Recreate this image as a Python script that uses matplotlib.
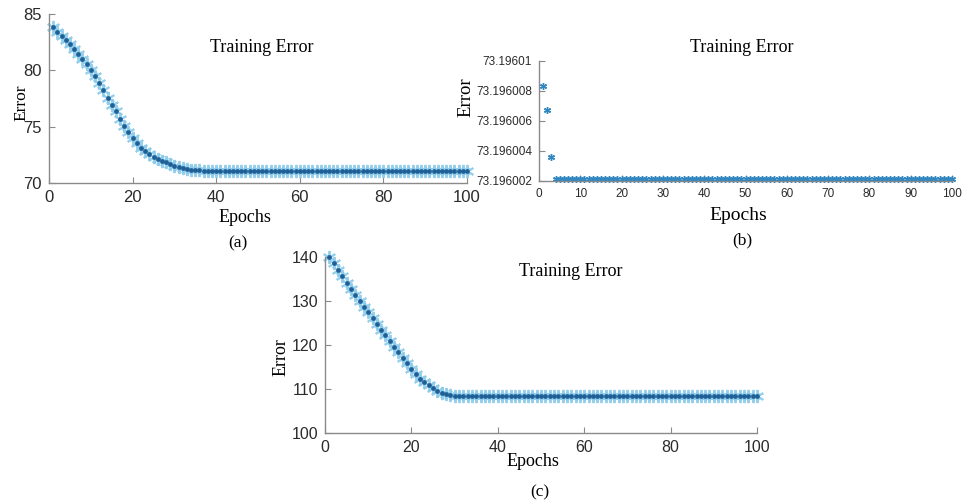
import numpy as np
import matplotlib.pyplot as plt

# epochs 1..100
epochs = np.arange(1, 101)

# (a) training error
err_a = [83.82, 83.44, 83.08, 82.70, 82.30, 81.88, 81.45, 81.00, 80.54, 80.06,
         79.48, 78.88, 78.22, 77.56, 76.96, 76.38, 75.72, 75.06, 74.54, 74.03,
         73.57, 73.15, 72.84, 72.56, 72.33, 72.12, 71.96, 71.82, 71.68, 71.55,
         71.43, 71.33, 71.25, 71.19, 71.15, 71.12] + [71.10] * 64

# (b) training error
err_b = [73.1960083, 73.1960067, 73.1960036] + [73.1960021] * 97

# (c) training error
err_c = [140.0, 138.6, 137.1, 135.6, 134.1, 132.7, 131.3, 130.0, 128.7, 127.4,
         126.1, 124.8, 123.5, 122.2, 120.9, 119.6, 118.3, 117.0, 115.8, 114.5,
         113.3, 112.3, 111.5, 110.8, 110.2, 109.6, 109.2, 108.9, 108.6] + [108.5] * 71

b_ticks = [73.196002, 73.196004, 73.196006, 73.196008, 73.19601]
b_labels = ["73.196002", "73.196004", "73.196006", "73.196008", "73.19601"]

W, H = 967, 504
fig = plt.figure(figsize=(W / 100, H / 100), dpi=100)
serif = "Liberation Serif"
sans = "Liberation Sans"


def box(l, t, r, b):
    return [l / W, 1 - b / H, (r - l) / W, (b - t) / H]


def style(ax, fs):
    for s in ["top", "right"]:
        ax.spines[s].set_visible(False)
    for s in ["left", "bottom"]:
        ax.spines[s].set_color("#8a8a8a")
        ax.spines[s].set_linewidth(1.0)
    ax.tick_params(direction="in", length=4, color="#8a8a8a", labelcolor="#2b2b2b",
                   labelsize=fs, pad=5)
    for lab in ax.get_xticklabels() + ax.get_yticklabels():
        lab.set_fontfamily(sans)


def label(x, y, s, fs=12.5, rot=0):
    fig.text(x / W, 1 - y / H, s, ha="center", va="center", fontsize=fs,
             family=serif, rotation=rot)


def big_markers(ax, x, y):
    ax.plot(x, y, ls="none", marker=(6, 2, 0), ms=9.5, mew=1.4, color="#8ccbeb",
            alpha=0.9, clip_on=False)
    ax.plot(x, y, ls="none", marker="o", ms=2.4, color="#1f5f95", clip_on=False)


# (a)
ax_a = fig.add_axes(box(49, 14, 467, 183))
big_markers(ax_a, epochs, err_a)
ax_a.set_xlim(0, 100)
ax_a.set_ylim(70, 85)
ax_a.set_xticks([0, 20, 40, 60, 80, 100])
ax_a.set_yticks([70, 75, 80, 85])
style(ax_a, 12)
label(262, 48, "Training Error", fs=13)
label(245, 217, "Epochs", fs=13)
label(21, 103, "Error", rot=90)
label(238, 243, "(a)")

# (b)
ax_b = fig.add_axes(box(539, 61, 952, 181))
ax_b.plot(epochs, err_b, ls="none", marker=(6, 2, 0), ms=5, mew=1.0, color="#2f86c0",
          clip_on=False)
ax_b.set_xlim(0, 100)
ax_b.set_ylim(73.196002, 73.19601)
ax_b.set_xticks(range(0, 101, 10))
ax_b.set_yticks(b_ticks)
ax_b.set_yticklabels(b_labels)
style(ax_b, 8.5)
label(742, 48, "Training Error", fs=13)
label(738, 216, "Epochs", fs=14)
label(466, 97, "Error", fs=13.5, rot=90)
label(742, 240, "(b)")

# (c)
ax_c = fig.add_axes(box(325, 257, 757, 433))
big_markers(ax_c, epochs, err_c)
ax_c.set_xlim(0, 100)
ax_c.set_ylim(100, 140)
ax_c.set_xticks([0, 20, 40, 60, 80, 100])
ax_c.set_yticks([100, 110, 120, 130, 140])
style(ax_c, 11.5)
label(571, 271, "Training Error", fs=13)
label(533, 462, "Epochs", fs=13)
label(281, 357, "Error", fs=13, rot=90)
label(540, 492, "(c)")

fig.savefig("out.png", dpi=100)
